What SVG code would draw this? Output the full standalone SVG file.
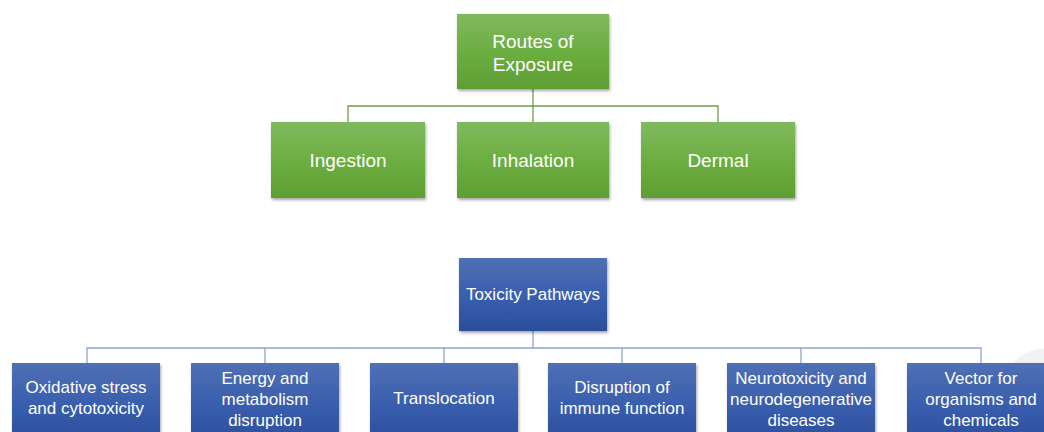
<svg xmlns="http://www.w3.org/2000/svg" width="1044" height="432" viewBox="0 0 1044 432">
<defs>
<linearGradient id="gG" x1="0" y1="0" x2="0" y2="1">
<stop offset="0" stop-color="#80b95e"/>
<stop offset="0.5" stop-color="#6cae41"/>
<stop offset="1" stop-color="#5f9e33"/>
</linearGradient>
<linearGradient id="gB" x1="0" y1="0" x2="0" y2="1">
<stop offset="0" stop-color="#5070b4"/>
<stop offset="0.5" stop-color="#3a5fae"/>
<stop offset="1" stop-color="#2b4e9c"/>
</linearGradient>
<filter id="sh" x="-10%" y="-10%" width="125%" height="130%">
<feDropShadow dx="1" dy="2" stdDeviation="1.5" flood-color="#000" flood-opacity="0.35"/>
</filter>
</defs>
<style>
.g{fill:url(#gG);filter:url(#sh)}
.b{fill:url(#bB);fill:url(#gB);filter:url(#sh)}
.t{font-family:"Liberation Sans",Arial,sans-serif;fill:#fff;text-anchor:middle}
.t19{font-size:19px}
.t17{font-size:17px}
.cg{stroke:#6f9b50;stroke-width:1.3;fill:none}
.cb{stroke:#8ea3d6;stroke-width:1.3;fill:none}
</style>
<rect width="1044" height="432" fill="#fff"/>
<circle cx="1048" cy="398" r="50" fill="#f2f2f2"/>
<g id="connectors">
<path class="cg" d="M533 89V106M348 122V106H718V122M533 106V122"/>
<path class="cb" d="M533 331V348M87 363V348H981V363M265 348V363M444 348V363M622 348V363M801 348V363"/>
</g>
<g id="routes">
<rect class="g" x="457" y="14" width="152" height="75"/>
<text class="t t19" x="533" y="48">Routes of</text>
<text class="t t19" x="533" y="71">Exposure</text>
</g>
<g id="ingestion">
<rect class="g" x="271" y="122" width="154" height="76"/>
<text class="t t19" x="348" y="167">Ingestion</text>
</g>
<g id="inhalation">
<rect class="g" x="457" y="122" width="152" height="76"/>
<text class="t t19" x="533" y="167">Inhalation</text>
</g>
<g id="dermal">
<rect class="g" x="641" y="122" width="154" height="76"/>
<text class="t t19" x="718" y="167">Dermal</text>
</g>
<g id="toxicity">
<rect class="b" x="459" y="258" width="148" height="73"/>
<text class="t t17" x="533" y="300">Toxicity Pathways</text>
</g>
<g id="oxidative">
<rect class="b" x="12" y="363" width="148" height="80"/>
<text class="t t17" x="86" y="393">Oxidative stress</text>
<text class="t t17" x="86" y="414">and cytotoxicity</text>
</g>
<g id="energy">
<rect class="b" x="191" y="363" width="148" height="80"/>
<text class="t t17" x="265" y="384">Energy and</text>
<text class="t t17" x="265" y="405">metabolism</text>
<text class="t t17" x="265" y="426">disruption</text>
</g>
<g id="translocation">
<rect class="b" x="370" y="363" width="148" height="80"/>
<text class="t t17" x="444" y="404">Translocation</text>
</g>
<g id="immune">
<rect class="b" x="548" y="363" width="148" height="80"/>
<text class="t t17" x="622" y="393">Disruption of</text>
<text class="t t17" x="622" y="414">immune function</text>
</g>
<g id="neuro">
<rect class="b" x="727" y="363" width="148" height="80"/>
<text class="t t17" x="801" y="384">Neurotoxicity and</text>
<text class="t t17" x="801" y="405">neurodegenerative</text>
<text class="t t17" x="801" y="426">diseases</text>
</g>
<g id="vector">
<rect class="b" x="907" y="363" width="148" height="80"/>
<text class="t t17" x="981" y="384">Vector for</text>
<text class="t t17" x="981" y="405">organisms and</text>
<text class="t t17" x="981" y="426">chemicals</text>
</g>
</svg>
